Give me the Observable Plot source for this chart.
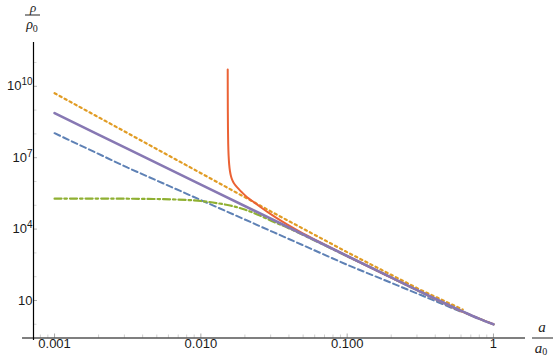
<!DOCTYPE html>
<html><head><meta charset="utf-8">
<script src="https://cdn.jsdelivr.net/npm/d3@7"></script>
<script src="https://cdn.jsdelivr.net/npm/@observablehq/plot@0.6"></script>
<style>
body{margin:0;background:#fff;}
#chart{position:relative;width:556px;height:359px;}
</style>
</head><body><div id="chart"></div>
<script>
// ---- data (log10 values) ----
const blueLogA   = [-3, -2.5, -2, -1.5, -1, -0.5, -0.22];
const blueLogRho = [8.03, 6.58, 5.22, 3.86, 2.50, 1.24, 0.52];

const orangeLogA   = [-3, -2.5, -2, -1.5, -1, -0.5, -0.21];
const orangeLogRho = [9.71, 8.03, 6.35, 4.67, 3.03, 1.45, 0.62];

const greenLogA   = [-3, -2.6, -2.4, -2.2, -2.0, -1.8, -1.7, -1.6, -1.5, -1.4, -1.2, -1.0, -0.8, -0.5, -0.3, -0.2, -0.1, 0];
const greenLogRho = [5.28, 5.28, 5.27, 5.25, 5.18, 4.99, 4.82, 4.58, 4.30, 4.04, 3.46, 2.86, 2.27, 1.37, 0.78, 0.50, 0.24, 0];

const redLogA   = [-1.8165, -1.8162, -1.8157, -1.8148, -1.8132, -1.8105, -1.8065, -1.801, -1.794, -1.785, -1.774, -1.762, -1.745, -1.72, -1.684, -1.64, -1.593, -1.53, -1.478, -1.42, -1.367, -1.3, -1.2, -1.0, -0.5, -0.2, 0];
const redLogRho = [10.71, 9.8, 9.0, 8.25, 7.6, 7.1, 6.72, 6.43, 6.22, 6.06, 5.93, 5.83, 5.71, 5.55, 5.34, 5.14, 4.93, 4.66, 4.45, 4.23, 4.04, 3.81, 3.49, 2.87, 1.37, 0.50, 0];

const purpleLogA   = [-3, -2.5, -2, -1.5, -1, -0.7, -0.5, -0.3, -0.2, -0.1, 0];
const purpleLogRho = [8.87, 7.37, 5.87, 4.37, 2.87, 1.97, 1.37, 0.79, 0.51, 0.24, 0];

const xTicks = [0.001, 0.01, 0.1, 1];
const xTickLabels = ["0.001", "0.010", "0.100", "1"];
const xMinorTicks = [0.0008, 0.0009, 0.002, 0.003, 0.004, 0.005, 0.006, 0.007, 0.008, 0.009,
  0.02, 0.03, 0.04, 0.05, 0.06, 0.07, 0.08, 0.09, 0.2, 0.3, 0.4, 0.5, 0.6, 0.7, 0.8, 0.9];
const yTicks = [10, 1e4, 1e7, 1e10];
const yTickLabels = ["10", "10^4", "10^7", "10^10"];
const yMinorTicks = [1, 100, 1000, 1e5, 1e6, 1e8, 1e9, 1e11];

// ---- layout constants ----
const X_MIN = -3.144, X_MAX = 0.219, X_AXIS_LEFT = -3.219;
const Y_MIN = -0.576, Y_MAX = 11.84, Y_AXIS_BOTTOM = -0.68;

const pts = (la, lr) => la.map((v, i) => ({a: 10 ** v, rho: 10 ** lr[i]}));
const lookup = (ticks, labels) => d => {
  const i = ticks.findIndex(t => Math.abs(Math.log10(t) - Math.log10(d)) < 1e-6);
  return i >= 0 ? labels[i] : "";
};

const plot = Plot.plot({
  width: 556, height: 359,
  marginLeft: 33, marginRight: 31, marginTop: 42, marginBottom: 21.5,
  x: {type: "log", domain: [10 ** X_MIN, 10 ** X_MAX], label: null},
  y: {type: "log", domain: [10 ** Y_MIN, 10 ** Y_MAX], label: null},
  style: {fontFamily: "'Liberation Sans', Arial, sans-serif", fontSize: "13px", background: "white", overflow: "visible"},
  marks: [
    Plot.axisX(xMinorTicks, {tickSize: -3, tickFormat: () => "", stroke: "#cfcfcf", label: null}),
    Plot.axisX(xTicks, {tickSize: -4, tickPadding: 5, fontSize: 13, tickFormat: lookup(xTicks, xTickLabels), stroke: "#a8a8a8", fill: "#1a1a1a", label: null}),
    Plot.axisY(yMinorTicks, {tickSize: -3.5, tickFormat: () => "", stroke: "#d6d6d6", label: null}),
    Plot.axisY(yTicks, {tickSize: -4, tickPadding: 5, fontSize: 13, tickFormat: lookup(yTicks, yTickLabels), stroke: "#b0b0b0", fill: "#1a1a1a", label: null}),
    Plot.ruleY([10 ** Y_MIN], {x1: 10 ** X_AXIS_LEFT, x2: 10 ** X_MAX, stroke: "#000", strokeWidth: 1.2}),
    Plot.ruleX([10 ** X_MIN], {y1: 10 ** Y_AXIS_BOTTOM, y2: 10 ** Y_MAX, stroke: "#000", strokeWidth: 1.2}),
    Plot.line(pts(blueLogA, blueLogRho), {x: "a", y: "rho", stroke: "#5E81B5", strokeWidth: 2, strokeDasharray: "6,3.5"}),
    Plot.line(pts(orangeLogA, orangeLogRho), {x: "a", y: "rho", stroke: "#E19C24", strokeWidth: 2.2, strokeDasharray: "2.3,3.4"}),
    Plot.line(pts(greenLogA, greenLogRho), {x: "a", y: "rho", stroke: "#8FB032", strokeWidth: 2.2, strokeDasharray: "7,3,2.5,3", curve: "catmull-rom"}),
    Plot.line(pts(redLogA, redLogRho), {x: "a", y: "rho", stroke: "#EB6235", strokeWidth: 2, curve: "catmull-rom"}),
    Plot.line(pts(purpleLogA, purpleLogRho), {x: "a", y: "rho", stroke: "#8778B3", strokeWidth: 2.6, curve: "catmull-rom"})
  ]
});

// superscripts for y tick labels
d3.select(plot).selectAll("text").each(function() {
  const t = this.textContent;
  if (t.includes("^")) {
    const [b, e] = t.split("^");
    const el = d3.select(this);
    el.text(null);
    el.append("tspan").text(b);
    el.append("tspan").attr("dy", "-0.5em").attr("font-size", "10px").text(e);
  }
});

// axis labels as fractions
const svg = d3.select(plot);
const g = svg.append("g").attr("fill", "#222");
const serif = "'Liberation Serif', 'Times New Roman', serif";
// rho / rho0
g.append("text").attr("x", 33).attr("y", 11.7).attr("text-anchor", "middle")
  .attr("font-family", serif).attr("font-style", "italic").attr("font-size", "13px").text("ρ");
g.append("line").attr("x1", 25).attr("x2", 40).attr("y1", 15).attr("y2", 15).attr("stroke", "#222").attr("stroke-width", 1);
const t2 = g.append("text").attr("x", 32).attr("y", 29).attr("text-anchor", "middle")
  .attr("font-family", serif).attr("font-style", "italic").attr("font-size", "14px");
t2.append("tspan").text("ρ");
t2.append("tspan").attr("dy", "3").attr("font-size", "10px").attr("font-style", "normal").text("0");
// a / a0
g.append("text").attr("x", 542).attr("y", 332).attr("text-anchor", "middle")
  .attr("font-family", serif).attr("font-style", "italic").attr("font-size", "15px").text("a");
g.append("line").attr("x1", 532).attr("x2", 553).attr("y1", 338).attr("y2", 338).attr("stroke", "#222").attr("stroke-width", 1);
const t3 = g.append("text").attr("x", 541).attr("y", 353).attr("text-anchor", "middle")
  .attr("font-family", serif).attr("font-style", "italic").attr("font-size", "15px");
t3.append("tspan").text("a");
t3.append("tspan").attr("dy", "2").attr("font-size", "10px").attr("font-style", "normal").text("0");

document.getElementById("chart").appendChild(plot);
</script>
</body></html>
